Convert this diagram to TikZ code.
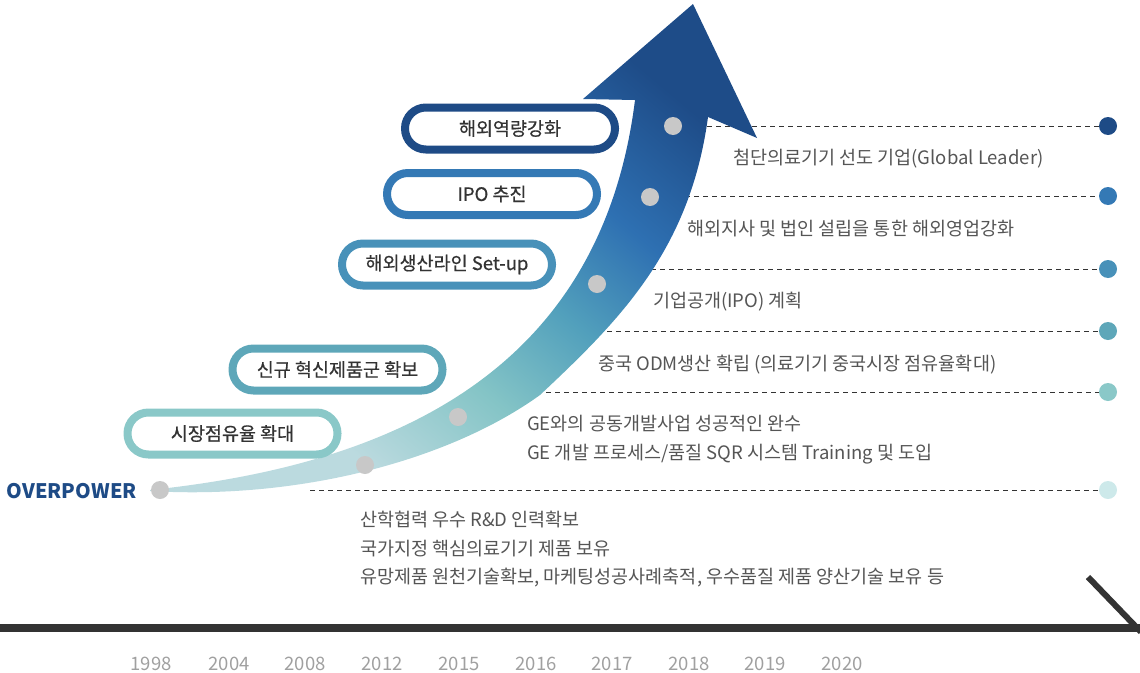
\documentclass[tikz,border=0pt]{standalone}
\usepackage{fontspec}
\setmainfont{Noto Sans CJK KR}
\newfontfamily\pillfont{Noto Sans CJK KR}[FakeBold=0.5]
\usetikzlibrary{arrows.meta}

\definecolor{navy}{HTML}{1E4B86}
\definecolor{ipoblue}{HTML}{3479B5}
\definecolor{lineblue}{HTML}{4891B9}
\definecolor{tealblue}{HTML}{5EA7B9}
\definecolor{teal}{HTML}{8AC8C8}
\definecolor{paleteal}{HTML}{CDE9EA}
\definecolor{dotgray}{HTML}{C8C8C8}
\definecolor{bartext}{HTML}{333333}
\definecolor{desctext}{HTML}{555555}
\definecolor{yeartext}{HTML}{A0A0A0}
\definecolor{tailc}{HTML}{BBDADF}
\definecolor{tealc}{HTML}{84C4C6}
\definecolor{midc}{HTML}{52A0BC}
\definecolor{bluec}{HTML}{2E70B2}
\definecolor{navyc}{HTML}{1E4C88}

\pgfdeclarehorizontalshading{growth}{100bp}{color(0bp)=(tailc); color(30bp)=(tailc);
  color(42bp)=(tealc); color(52bp)=(midc); color(62bp)=(bluec); color(74bp)=(navyc);
  color(100bp)=(navyc)}

\tikzset{
  pill/.style={draw=#1, line width=8pt, fill=white, rounded corners=20.9pt,
    minimum width=210pt, minimum height=42pt, inner sep=0pt,
    font=\pillfont\fontsize{18.5}{22}\selectfont, text=bartext},
  desc/.style={anchor=west, inner sep=0pt, text=desctext,
    font=\fontsize{18.5}{28.5}\selectfont, align=left},
  enddot/.style={circle, fill=#1, minimum size=18pt, inner sep=0pt},
  pathdot/.style={circle, fill=dotgray, minimum size=18pt, inner sep=0pt},
  dashln/.style={thin, color=bartext, dash pattern=on 5pt off 4pt},
  year/.style={text=yeartext, font=\fontsize{18.5}{22}\selectfont}
}

\begin{document}
\begin{tikzpicture}[x=1pt, y=-1pt]
  \useasboundingbox (0,0) rectangle (1140,672);

  % Guide lines to the right
  \foreach \n/\x/\y/\c in {1/707/126/navy, 2/685/196/ipoblue, 3/642/269/lineblue,
      4/598/331/tealblue, 5/528/392/teal, 6/310/490/paleteal} {
    \coordinate (s\n) at (\x,\y);
    \node[enddot=\c] (d\n) at (1108,\y) {};
    \draw[dashln] (s\n) -- (d\n);
  }

  % Growth arrow
  \shade[shading=growth, shading angle=50]
    (150,490) .. controls (380,466) and (600,380) .. (635,100)
    -- (583,99) -- (693,4) -- (757,138) -- (708,117)
    .. controls (690,250) and (620,320) .. (540,395)
    .. controls (450,460) and (300,500) .. (150,491) -- cycle;

  % Points on the arrow
  \foreach \n/\x/\y in {0/160/490, 1/365/465, 2/458/417, 3/597/284, 4/650/197, 5/673/126}
    \node[pathdot] (a\n) at (\x,\y) {};

  \node[anchor=east, inner sep=0pt, text=navy, font=\bfseries\fontsize{20}{24}\selectfont]
    (over) at (137,491) {OVERPOWER};

  % Milestones
  \node[pill=navy] (p1) at (510,128.5) {해외역량강화};
  \node[pill=ipoblue] (p2) at (492,194) {IPO 추진};
  \node[pill=lineblue] (p3) at (447,264.5) {해외생산라인 Set-up};
  \node[pill=tealblue] (p4) at (337.5,369.5) {신규 혁신제품군 확보};
  \node[pill=teal] (p5) at (232.5,433.5) {시장점유율 확대};

  % Descriptions
  \node[desc] (t1) at (733,159) {첨단의료기기 선도 기업(Global Leader)};
  \node[desc] (t2) at (687,229) {해외지사 및 법인 설립을 통한 해외영업강화};
  \node[desc] (t3) at (653,302) {기업공개(IPO) 계획};
  \node[desc] (t4) at (598,365) {중국 ODM생산 확립 (의료기기 중국시장 점유율확대)};
  \node[desc] (t5) at (527,439.5) {GE와의 공동개발사업 성공적인 완수\\GE 개발 프로세스/품질 SQR 시스템 Training 및 도입};
  \node[desc] (t6) at (360,549.5) {산학협력 우수 R\&D 인력확보\\국가지정 핵심의료기기 제품 보유\\유망제품 원천기술확보, 마케팅성공사례축적, 우수품질 제품 양산기술 보유 등};

  % Timeline
  \draw[line width=8pt, color=bartext] (0,628) -- (1140,628);
  \draw[line width=6pt, color=bartext] (1088,577) -- (1141,632);
  \foreach \yr/\x in {1998/151, 2004/229, 2008/305, 2012/382, 2015/459,
      2016/536, 2017/612, 2018/689, 2019/765, 2020/842}
    \node[year] (y\yr) at (\x,664) {\yr};
\end{tikzpicture}
\end{document}
